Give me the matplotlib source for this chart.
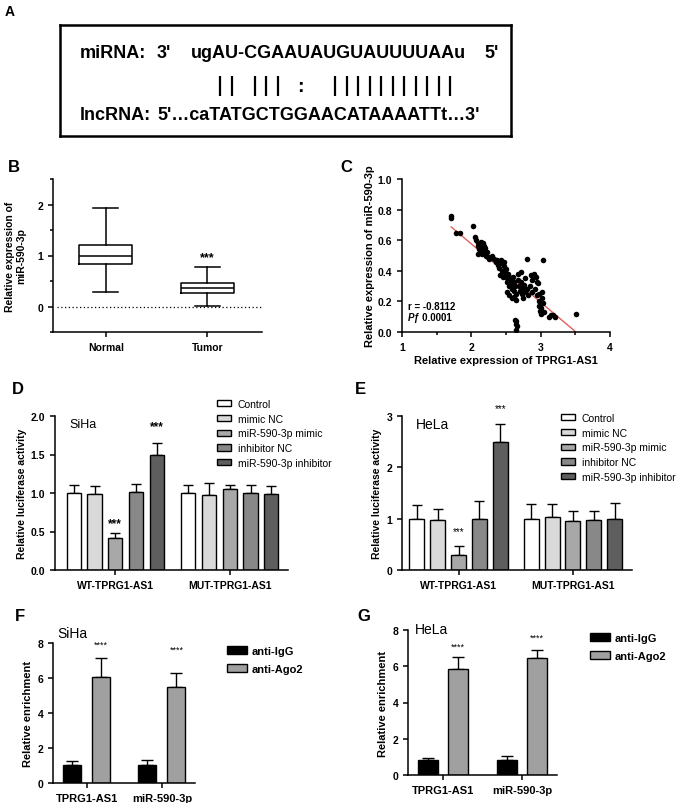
import numpy as np
import matplotlib
matplotlib.use('Agg')
import matplotlib.pyplot as plt
from matplotlib.patches import Patch

plt.rcParams['font.family'] = ['Liberation Sans', 'DejaVu Sans']
plt.rcParams['font.size'] = 7.5
plt.rcParams['font.weight'] = 'bold'
plt.rcParams['axes.labelweight'] = 'bold'
plt.rcParams['axes.linewidth'] = 1.1
plt.rcParams['xtick.major.width'] = 1.1
plt.rcParams['ytick.major.width'] = 1.1
plt.rcParams['xtick.minor.width'] = 1.1
plt.rcParams['ytick.minor.width'] = 1.1
plt.rcParams['xtick.major.size'] = 3.5
plt.rcParams['ytick.major.size'] = 3.5
plt.rcParams['xtick.minor.size'] = 2.5
plt.rcParams['ytick.minor.size'] = 2.5

# --- A: pareamento miRNA / lncRNA
seq_mirna = 'ugAU-CGAAUAUGUAUUUUAAu'
seq_lnc = "5'…caTATGCTGGAACATAAAATTt…3'"
pareamento = '|| ||| :  |||||||||||'

# --- B: boxplot
grupos_b = ['Normal', 'Tumor']
mediana_b = [0.99, 0.36]
q1_b = [0.83, 0.27]
q3_b = [1.21, 0.47]
min_b = [0.28, 0.01]
max_b = [1.93, 0.77]

# --- C: correlacao
tprg_x = [1.71, 1.71, 1.78, 1.83, 2.03, 2.06, 2.07, 2.09, 2.10, 2.12, 2.14, 2.15, 2.17, 2.18,
          2.11, 2.13, 2.16, 2.19, 2.21, 2.23, 2.09, 2.20, 2.24, 2.26, 2.30, 2.33, 2.35, 2.37,
          2.38, 2.40, 2.41, 2.43, 2.44, 2.45, 2.46, 2.47, 2.48, 2.49, 2.50, 2.51, 2.52, 2.53,
          2.54, 2.55, 2.56, 2.57, 2.58, 2.59, 2.60, 2.61, 2.62, 2.63, 2.64, 2.52, 2.55, 2.58,
          2.62, 2.65, 2.47, 2.42, 2.67, 2.68, 2.69, 2.70, 2.71, 2.72, 2.73, 2.74, 2.75, 2.76,
          2.77, 2.78, 2.80, 2.81, 2.82, 2.84, 2.86, 2.87, 2.88, 2.90, 2.91, 2.92, 2.93, 2.94,
          2.95, 2.96, 2.97, 2.98, 2.99, 3.00, 3.01, 3.02, 3.03, 3.04, 3.05, 2.98, 3.02, 2.63,
          2.64, 2.65, 2.66, 2.64, 3.12, 3.15, 3.18, 3.20, 3.51]
mir_y = [0.76, 0.745, 0.645, 0.645, 0.695, 0.62, 0.60, 0.58, 0.56, 0.57, 0.59, 0.55, 0.58, 0.56,
         0.54, 0.52, 0.51, 0.53, 0.50, 0.52, 0.51, 0.55, 0.49, 0.48, 0.50, 0.48, 0.46, 0.47,
         0.44, 0.42, 0.45, 0.47, 0.40, 0.38, 0.36, 0.43, 0.39, 0.37, 0.41, 0.35, 0.33, 0.38,
         0.36, 0.30, 0.34, 0.32, 0.28, 0.31, 0.36, 0.27, 0.33, 0.30, 0.25, 0.26, 0.24, 0.22,
         0.23, 0.21, 0.46, 0.37, 0.38, 0.34, 0.30, 0.27, 0.39, 0.33, 0.25, 0.29, 0.22, 0.31,
         0.26, 0.35, 0.28, 0.48, 0.24, 0.30, 0.37, 0.26, 0.34, 0.38, 0.37, 0.28, 0.36, 0.33,
         0.24, 0.32, 0.20, 0.17, 0.14, 0.12, 0.16, 0.22, 0.47, 0.19, 0.13, 0.25, 0.26, 0.08,
         0.07, 0.05, 0.04, 0.01, 0.10, 0.11, 0.11, 0.10, 0.12]

# --- D / E: luciferase
condicoes = ['Control', 'mimic NC', 'miR-590-3p mimic', 'inhibitor NC', 'miR-590-3p inhibitor']
cores_cond = ['#ffffff', '#d9d9d9', '#a8a8a8', '#888888', '#5e5e5e']
grupos_luc = ['WT-TPRG1-AS1', 'MUT-TPRG1-AS1']
siha_wt = [1.0, 0.99, 0.42, 1.01, 1.5]
siha_wt_err = [0.1, 0.1, 0.06, 0.11, 0.15]
siha_mut = [1.0, 0.97, 1.05, 1.0, 0.99]
siha_mut_err = [0.1, 0.16, 0.06, 0.1, 0.1]
hela_wt = [1.0, 0.98, 0.30, 1.0, 2.5]
hela_wt_err = [0.26, 0.21, 0.17, 0.34, 0.34]
hela_mut = [1.0, 1.03, 0.96, 0.98, 1.0]
hela_mut_err = [0.28, 0.25, 0.18, 0.16, 0.31]

# --- F / G: RIP
alvos = ['TPRG1-AS1', 'miR-590-3p']
anticorpos = ['anti-IgG', 'anti-Ago2']
cores_ac = ['#000000', '#a0a0a0']
siha_igg = [1.05, 1.05]
siha_igg_err = [0.19, 0.26]
siha_ago2 = [6.08, 5.47]
siha_ago2_err = [1.04, 0.83]
hela_igg = [0.83, 0.84]
hela_igg_err = [0.11, 0.19]
hela_ago2 = [5.83, 6.48]
hela_ago2_err = [0.70, 0.42]

W, H = 676, 804
fig = plt.figure(figsize=(W / 100, H / 100), dpi=100)


def caixa(x0, y0, x1, y1):
    # pixels -> fracao da figura
    return [x0 / W, 1 - y1 / H, (x1 - x0) / W, (y1 - y0) / H]


def letra(txt, x, y, size=12):
    fig.text(x / W, 1 - y / H, txt, fontsize=size, fontweight='bold', va='center', ha='left')


def limpar(ax):
    ax.spines['top'].set_visible(False)
    ax.spines['right'].set_visible(False)


# ================= A =================
letra('A', 5, 12, size=10)
axA = fig.add_axes(caixa(60, 26, 511, 137))
axA.set_xlim(60, 511)
axA.set_ylim(137, 26)
axA.set_xticks([])
axA.set_yticks([])
for s in axA.spines.values():
    s.set_linewidth(1.8)
fa = 13
axA.text(80, 54, 'miRNA:', fontsize=fa, va='center')
axA.text(157, 54, "3'", fontsize=fa, va='center')
axA.text(191, 54, seq_mirna, fontsize=fa, va='center')
axA.text(484, 54, "5'", fontsize=fa, va='center')
axA.text(80, 116, 'lncRNA:', fontsize=fa, va='center')
axA.text(157, 116, seq_lnc, fontsize=fa, va='center')
passo = 11.5
for i, ch in enumerate(pareamento):
    xp = 220 + i * passo
    if ch == '|':
        axA.plot([xp, xp], [77, 97], color='black', lw=1.6, solid_capstyle='butt')
    elif ch == ':':
        axA.text(xp, 87, ':', fontsize=14, ha='center', va='center')

# ================= B =================
letra('B', 8, 167)
axB = fig.add_axes(caixa(53, 180, 262, 333))
estat = []
for i in range(2):
    estat.append({'med': mediana_b[i], 'q1': q1_b[i], 'q3': q3_b[i],
                  'whislo': min_b[i], 'whishi': max_b[i], 'fliers': []})
props = dict(color='black', linewidth=1.1)
axB.bxp(estat, positions=[0, 1], widths=0.52, capwidths=0.25, showfliers=False,
        boxprops=props, whiskerprops=props, capprops=props,
        medianprops=dict(color='black', linewidth=1.1))
axB.axhline(0, xmin=0.02, xmax=1, color='black', lw=0.9, ls=(0, (1, 2)))
axB.set_xlim(-0.52, 1.54)
axB.set_ylim(-0.5, 2.5)
axB.set_yticks([0, 1, 2])
axB.set_yticks([-0.5, 0.5, 1.5, 2.5], minor=True)
axB.set_xticks([0, 1])
axB.set_xticklabels(grupos_b)
axB.set_ylabel('Relative expression of\nmiR-590-3p', fontsize=7.5, labelpad=8)
axB.text(1, max_b[1] + 0.2, '***', ha='center', va='center', fontsize=9)
limpar(axB)

# ================= C =================
letra('C', 340, 168)
axC = fig.add_axes(caixa(402, 180, 610, 333))
axC.scatter(tprg_x, mir_y, s=16, color='black', zorder=3, linewidths=0)
coef = np.polyfit(tprg_x, mir_y, 1)
xx = np.array([min(tprg_x), max(tprg_x)])
axC.plot(xx, np.polyval(coef, xx), color='#e06060', lw=1.0, zorder=2)
axC.set_xlim(1, 4)
axC.set_ylim(0, 1.0)
axC.set_xticks([1, 2, 3, 4])
axC.set_xticks([1.5, 2.5, 3.5], minor=True)
axC.set_yticks(np.arange(0, 1.01, 0.2))
axC.set_yticklabels(['0.0', '0.2', '0.4', '0.6', '0.8', '1.0'])
axC.set_xlabel('Relative expression of TPRG1-AS1', fontsize=8, labelpad=2)
axC.set_ylabel('Relative expression of miR-590-3p', fontsize=8, labelpad=2)
axC.text(1.09, 0.17, 'r = -0.8112', fontsize=7, va='center')
axC.text(1.09, 0.10, 'P', fontsize=7, va='center', fontstyle='italic')
axC.text(1.17, 0.10, 'ƒ 0.0001', fontsize=7, va='center')
limpar(axC)


# ================= D / E =================
def painel_luc(ax, wt, wt_err, mut, mut_err, largura, celula, leg_xy, estrelas, fs_cel, estilo_estrela):
    pos_wt = np.arange(5)
    pos_mut = np.arange(5) + 5.5
    for pos, vals, errs in [(pos_wt, wt, wt_err), (pos_mut, mut, mut_err)]:
        ax.bar(pos, vals, width=largura, color=cores_cond, edgecolor='black', linewidth=1.0, zorder=2)
        ax.errorbar(pos, vals, yerr=[np.zeros(5), errs], fmt='none', ecolor='black',
                    elinewidth=1.0, capsize=3.5, capthick=1.0, zorder=1)
    ax.set_xticks([2, 7.5])
    ax.set_xticklabels(grupos_luc)
    ax.set_ylabel('Relative luciferase activity', fontsize=7.5, labelpad=3)
    for idx, yv in estrelas:
        ax.text(pos_wt[idx], yv, '***', ha='center', va='center', clip_on=False, **estilo_estrela)
    ax.text(0.06, 0.95, celula, transform=ax.transAxes, fontsize=fs_cel, fontweight='normal',
            va='center', ha='left')
    alcas = [Patch(facecolor=c, edgecolor='black', linewidth=1.0) for c in cores_cond]
    ax.legend(alcas, condicoes, loc='upper left', bbox_to_anchor=(leg_xy[0] / W, 1 - leg_xy[1] / H),
              bbox_transform=fig.transFigure, frameon=False, borderpad=0, borderaxespad=0,
              handlelength=1.3, handleheight=0.55, handletextpad=0.7, labelspacing=0.45,
              prop={'size': 7.5, 'weight': 'normal'})
    limpar(ax)


letra('D', 12, 390)
axD = fig.add_axes(caixa(55, 417, 288, 571))
painel_luc(axD, siha_wt, siha_wt_err, siha_mut, siha_mut_err, 0.68, 'SiHa', (217, 400),
           [(2, 0.61), (4, 1.87)], 9, dict(fontsize=8.5, fontweight='bold'))
axD.set_xlim(-0.9, 10.3)
axD.set_ylim(0, 2.0)
axD.set_yticks([0, 0.5, 1.0, 1.5, 2.0])
axD.set_yticklabels(['0.0', '0.5', '1.0', '1.5', '2.0'])

letra('E', 355, 390)
axE = fig.add_axes(caixa(402, 417, 632, 571))
painel_luc(axE, hela_wt, hela_wt_err, hela_mut, hela_mut_err, 0.72, 'HeLa', (561, 414),
           [(2, 0.76), (4, 3.15)], 10, dict(fontsize=7, fontweight='normal'))
axE.set_xlim(-0.72, 10.34)
axE.set_ylim(0, 3)
axE.set_yticks([0, 1, 2, 3])


# ================= F / G =================
def painel_rip(ax, igg, igg_err, ago2, ago2_err, desloc, largura, celula, cel_xy, leg_xy, estrelas):
    centros = np.arange(2)
    series = [(centros - desloc, igg, igg_err, cores_ac[0]), (centros + desloc, ago2, ago2_err, cores_ac[1])]
    for pos, vals, errs, cor in series:
        ax.bar(pos, vals, width=largura, color=cor, edgecolor='black', linewidth=1.0, zorder=2)
        ax.errorbar(pos, vals, yerr=[np.zeros(2), errs], fmt='none', ecolor='black',
                    elinewidth=1.0, capsize=4, capthick=1.0, zorder=1)
    for i, yv in enumerate(estrelas):
        ax.text(centros[i] + desloc, yv, '****', ha='center', va='center', fontsize=6.5,
                fontweight='normal', clip_on=False)
    ax.set_xticks(centros)
    ax.set_xticklabels(alvos, fontsize=8)
    ax.set_ylim(0, 8)
    ax.set_yticks([0, 2, 4, 6, 8])
    ax.set_ylabel('Relative enrichment', fontsize=8, labelpad=3)
    ax.text(cel_xy[0] / W, 1 - cel_xy[1] / H, celula, transform=fig.transFigure, fontsize=10,
            fontweight='normal', va='center', ha='left')
    alcas = [Patch(facecolor=c, edgecolor='black', linewidth=1.0) for c in cores_ac]
    ax.legend(alcas, anticorpos, loc='upper left', bbox_to_anchor=(leg_xy[0] / W, 1 - leg_xy[1] / H),
              bbox_transform=fig.transFigure, frameon=False, borderpad=0, borderaxespad=0,
              handlelength=1.8, handleheight=0.65, handletextpad=0.4, labelspacing=0.7,
              prop={'size': 8, 'weight': 'bold'})
    limpar(ax)


letra('F', 15, 617)
axF = fig.add_axes(caixa(53, 644, 195, 784))
painel_rip(axF, siha_igg, siha_igg_err, siha_ago2, siha_ago2_err, 0.193, 0.24, 'SiHa',
           (57, 634), (227, 647), [7.94, 7.66])
axF.set_xlim(-0.45, 1.44)

letra('G', 357, 617)
axG = fig.add_axes(caixa(408, 631, 557, 776))
painel_rip(axG, hela_igg, hela_igg_err, hela_ago2, hela_ago2_err, 0.19, 0.25, 'HeLa',
           (415, 630), (590, 634), [7.08, 7.58])
axG.set_xlim(-0.44, 1.44)

fig.savefig('out.png', dpi=100)
